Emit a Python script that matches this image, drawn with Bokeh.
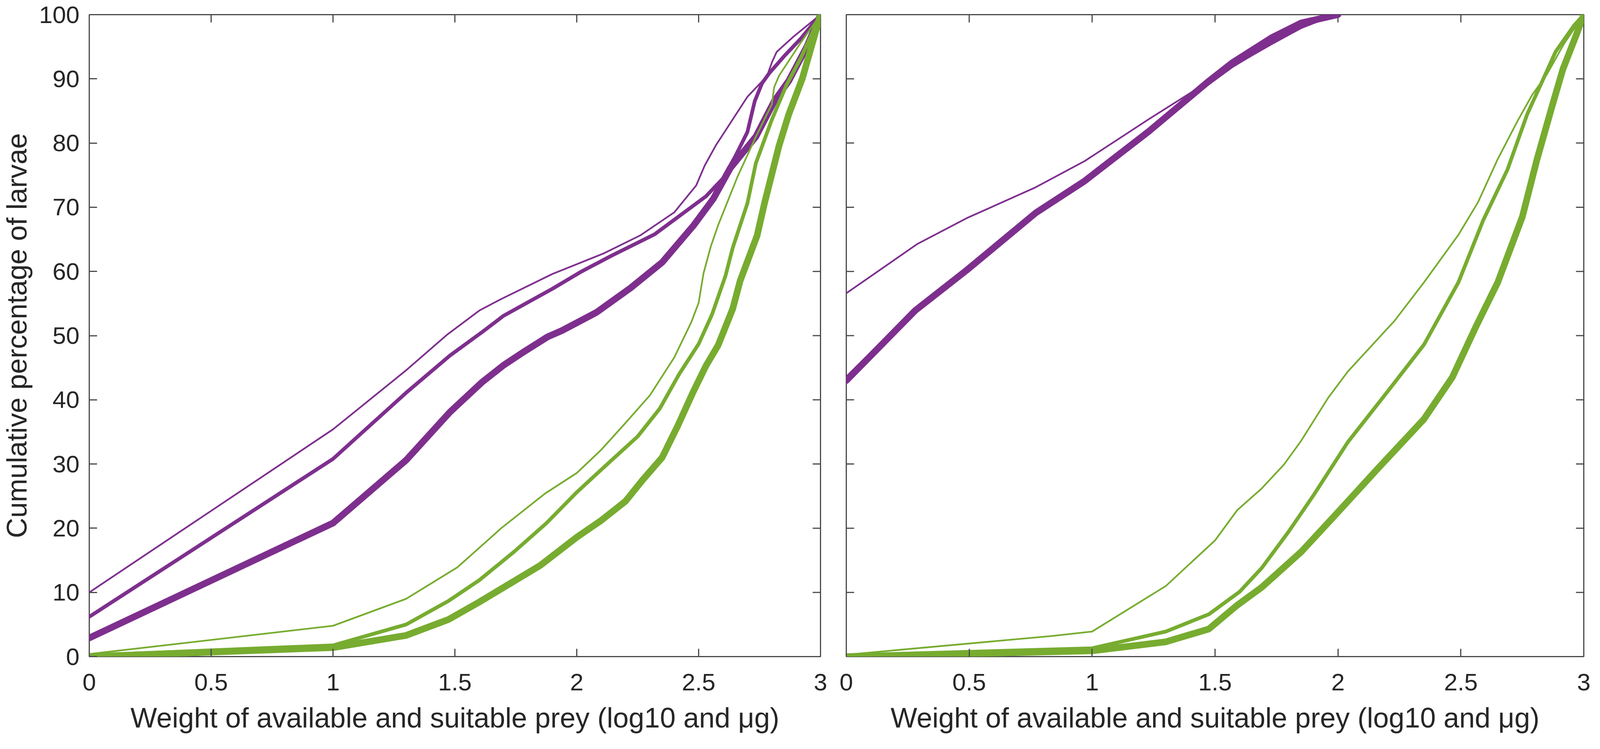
import math
from bokeh.plotting import figure
from bokeh.layouts import row
from bokeh.models import Range1d, FixedTicker, CustomJSTickFormatter
from bokeh.embed import file_html
from bokeh.resources import INLINE

# ---------------- data ----------------
x_ticks = [0, 0.5, 1, 1.5, 2, 2.5, 3]
y_ticks = [0, 10, 20, 30, 40, 50, 60, 70, 80, 90, 100]
x_title = "Weight of available and suitable prey (log10 and \u03bcg)"
y_title = "Cumulative percentage of larvae"

PURPLE = "#7E2F8E"
GREEN = "#77AC30"

# Left panel
L_purple_thin_x = [0, 1.0, 1.3, 1.47, 1.6, 1.69, 1.9, 2.11, 2.26, 2.4, 2.49, 2.525, 2.57, 2.63, 2.70, 2.78, 2.80, 2.82, 2.89, 3.0]
L_purple_thin_y = [10.0, 35.4, 44.6, 50.2, 53.9, 55.7, 59.6, 62.8, 65.6, 69.2, 73.4, 76.5, 79.6, 83.1, 87.2, 90.4, 92.5, 94.2, 96.6, 100]

L_purple_med_x = [0, 1.0, 1.3, 1.48, 1.61, 1.70, 1.9, 2.02, 2.14, 2.32, 2.53, 2.6, 2.65, 2.70, 2.73, 2.76, 2.79, 2.85, 2.92, 3.0]
L_purple_med_y = [6.2, 30.8, 41.1, 46.9, 50.5, 53.1, 57.3, 60.0, 62.4, 65.8, 71.7, 74.5, 77.9, 81.7, 86.5, 89.3, 90.9, 93.5, 96.3, 100]

L_purple_thick_x = [0, 1.0, 1.3, 1.48, 1.61, 1.70, 1.78, 1.88, 1.94, 2.08, 2.22, 2.35, 2.48, 2.56, 2.63, 2.735, 2.81, 2.87, 2.945, 3.0]
L_purple_thick_y = [2.9, 20.8, 30.6, 38.1, 42.7, 45.4, 47.4, 49.8, 50.8, 53.6, 57.4, 61.4, 67.2, 71.3, 76.1, 81.0, 86.5, 89.7, 95.1, 100]

L_green_thin_x = [0, 1.0, 1.3, 1.51, 1.69, 1.87, 2.0, 2.1, 2.2, 2.3, 2.4, 2.47, 2.5, 2.52, 2.55, 2.58, 2.66, 2.735, 2.80, 2.81, 2.83, 2.92, 3.0]
L_green_thin_y = [0.4, 4.8, 9.0, 13.9, 20.0, 25.4, 28.6, 32.2, 36.4, 40.7, 46.6, 52.1, 55.1, 59.7, 63.9, 67.2, 74.8, 81.0, 86.0, 88.7, 90.5, 95.7, 100]

L_green_med_x = [0, 1.0, 1.3, 1.475, 1.6, 1.745, 1.876, 2.0, 2.12, 2.25, 2.34, 2.42, 2.50, 2.555, 2.61, 2.64, 2.70, 2.735, 2.80, 2.86, 2.92, 3.0]
L_green_med_y = [0.2, 1.75, 5.0, 8.7, 11.9, 16.4, 20.8, 25.6, 29.8, 34.3, 38.6, 44.0, 48.7, 53.3, 59.3, 63.7, 70.6, 76.9, 83.6, 89.0, 93.3, 100]

L_green_thick_x = [0, 1.0, 1.3, 1.475, 1.6, 1.85, 2.0, 2.1, 2.2, 2.27, 2.35, 2.415, 2.476, 2.53, 2.58, 2.64, 2.67, 2.74, 2.77, 2.83, 2.87, 2.925, 3.0]
L_green_thick_y = [0.0, 1.4, 3.3, 5.8, 8.5, 14.2, 18.6, 21.2, 24.2, 27.5, 31.0, 36.0, 41.1, 45.3, 48.5, 54.2, 58.5, 65.6, 70.6, 79.6, 84.5, 90.0, 100]

# Right panel
R_purple_thin_x = [0, 0.29, 0.49, 0.77, 0.97, 1.23, 1.47, 1.57, 1.73, 1.85, 1.99]
R_purple_thin_y = [56.6, 64.3, 68.3, 73.1, 77.2, 83.7, 89.5, 91.9, 95.4, 97.9, 100]

R_purple_med_x = [0, 0.28, 0.49, 0.77, 0.97, 1.23, 1.47, 1.57, 1.73, 1.85, 2.0]
R_purple_med_y = [43.4, 54.0, 60.3, 69.0, 74.0, 81.6, 89.2, 92.0, 95.7, 98.3, 100]

R_purple_thick_x = [0, 0.28, 0.49, 0.77, 0.97, 1.23, 1.47, 1.57, 1.73, 1.85, 2.0]
R_purple_thick_y = [43.0, 53.9, 60.2, 69.1, 74.1, 81.8, 89.5, 92.5, 96.4, 98.7, 100]

R_green_thin_x = [0, 0.835, 1.0, 1.3, 1.5, 1.59, 1.69, 1.78, 1.85, 1.96, 2.04, 2.23, 2.35, 2.49, 2.57, 2.65, 2.73, 2.79, 2.85, 2.92, 3.0]
R_green_thin_y = [0.3, 3.2, 3.9, 11.0, 18.1, 22.8, 26.2, 29.9, 33.6, 40.3, 44.4, 52.3, 58.3, 65.7, 70.8, 77.5, 83.4, 87.5, 90.7, 95.5, 100]

R_green_med_x = [0, 1.0, 1.3, 1.475, 1.6, 1.69, 1.8, 1.9, 2.04, 2.2, 2.35, 2.49, 2.59, 2.69, 2.77, 2.845, 2.885, 2.96, 3.0]
R_green_med_y = [0.2, 1.3, 3.9, 6.6, 10.1, 13.8, 19.5, 25.1, 33.4, 41.2, 48.6, 58.3, 67.9, 75.9, 84.5, 90.8, 94.2, 98.3, 100]

R_green_thick_x = [0, 1.0, 1.3, 1.475, 1.59, 1.69, 1.85, 2.0, 2.16, 2.35, 2.465, 2.56, 2.65, 2.75, 2.81, 2.87, 2.915, 2.97, 3.0]
R_green_thick_y = [0.0, 0.9, 2.3, 4.3, 8.0, 10.8, 16.3, 22.5, 29.2, 37.0, 43.5, 51.3, 58.3, 68.5, 77.5, 85.6, 91.5, 96.9, 100]

THIN, MED, THICK = 4.3, 9.5, 17

left_series = [
    (L_purple_thin_x, L_purple_thin_y, PURPLE, THIN),
    (L_purple_med_x, L_purple_med_y, PURPLE, MED),
    (L_purple_thick_x, L_purple_thick_y, PURPLE, THICK),
    (L_green_thin_x, L_green_thin_y, GREEN, THIN),
    (L_green_med_x, L_green_med_y, GREEN, MED),
    (L_green_thick_x, L_green_thick_y, GREEN, THICK),
]
right_series = [
    (R_purple_thin_x, R_purple_thin_y, PURPLE, THIN),
    (R_purple_med_x, R_purple_med_y, PURPLE, MED),
    (R_purple_thick_x, R_purple_thick_y, PURPLE, THICK),
    (R_green_thin_x, R_green_thin_y, GREEN, THIN),
    (R_green_med_x, R_green_med_y, GREEN, MED),
    (R_green_thick_x, R_green_thick_y, GREEN, THICK),
]

FONT = "Liberation Sans"
TXT = "#262626"
AX = "#4a4a4a"
TICK_FS = "62px"
TITLE_FS = "72px"
FIG_H = 1901
TICK_LEN = 20
AX_W = 3


def style_axis(ax, ticks):
    ax.ticker = FixedTicker(ticks=ticks)
    ax.minor_tick_line_color = None
    ax.major_tick_in = TICK_LEN
    ax.major_tick_out = 0
    ax.major_tick_line_color = AX
    ax.major_tick_line_width = AX_W
    ax.axis_line_color = None
    ax.major_label_text_font = FONT
    ax.major_label_text_color = TXT
    ax.major_label_text_font_size = TICK_FS
    ax.axis_label_text_font = FONT
    ax.axis_label_text_color = TXT
    ax.axis_label_text_font_style = "normal"
    ax.axis_label_text_font_size = TITLE_FS


def make_panel(width, border_left, series, show_ylabels):
    p = figure(width=width, height=FIG_H,
               x_range=Range1d(0, 3), y_range=Range1d(0, 100),
               output_backend="svg", toolbar_location=None,
               min_border_left=border_left, min_border_right=20,
               min_border_top=37, min_border_bottom=221)
    p.background_fill_color = "white"
    p.border_fill_color = "white"
    p.outline_line_color = AX
    p.outline_line_width = AX_W
    p.xgrid.visible = False
    p.ygrid.visible = False

    bx = p.xaxis[0]
    style_axis(bx, x_ticks)
    bx.formatter = CustomJSTickFormatter(code="return tick.toString();")
    bx.major_label_standoff = 44
    bx.axis_label = x_title
    bx.axis_label_standoff = 27

    ly = p.yaxis[0]
    if show_ylabels:
        style_axis(ly, y_ticks)
        ly.major_label_standoff = 25
        ly.axis_label = y_title
        ly.axis_label_standoff = 14
        y_side_x = [3]
    else:
        ly.visible = False
        y_side_x = [0, 3]

    # inward tick marks on the sides that carry no labels (top, right, and
    # left of the second panel): dashes centred on the frame edge, half clipped
    inner_x = x_ticks[1:-1]
    inner_y = y_ticks[1:-1]
    p.scatter(inner_x, [100] * len(inner_x), marker="dash", size=2 * TICK_LEN,
              angle=math.pi / 2, line_color=AX, line_width=AX_W)
    for xv in y_side_x:
        p.scatter([xv] * len(inner_y), inner_y, marker="dash", size=2 * TICK_LEN,
                  line_color=AX, line_width=AX_W)

    for xs, ys, col, w in series:
        p.line(xs, ys, line_color=col, line_width=w, line_join="round", line_cap="round")
    return p


p1 = make_panel(2120, 212, left_series, True)
p2 = make_panel(1954, 46, right_series, False)

layout = row(p1, p2)
open("out.html", "w").write(file_html(layout, INLINE))
